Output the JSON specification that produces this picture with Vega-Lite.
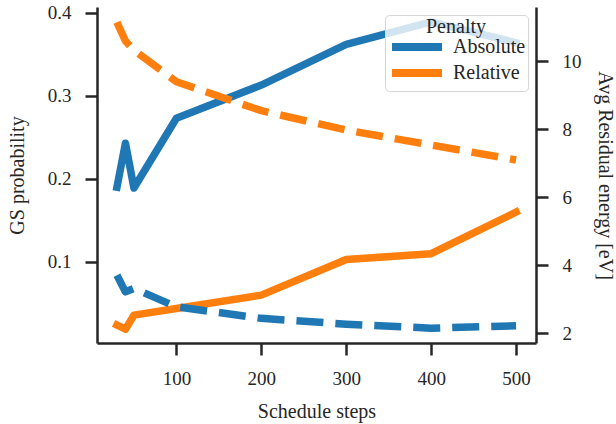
{
  "$schema": "https://vega.github.io/schema/vega-lite/v6.json",
  "width": 439,
  "height": 336,
  "autosize": {"type": "none"},
  "padding": {"left": 97, "top": 7, "right": 80, "bottom": 81},
  "background": "white",
  "config": {
    "view": {"stroke": null},
    "font": "Liberation Serif",
    "axis": {
      "grid": false,
      "domainColor": "#262626",
      "domainWidth": 2.5,
      "tickColor": "#262626",
      "tickWidth": 2.5,
      "tickSize": 12,
      "labelFont": "Liberation Serif",
      "labelFontSize": 19,
      "labelColor": "#262626",
      "labelPadding": 14,
      "titleFont": "Liberation Serif",
      "titleFontSize": 20,
      "titleFontWeight": "normal",
      "titleColor": "#262626"
    },
    "legend": {
      "labelFont": "Liberation Serif",
      "titleFont": "Liberation Serif"
    }
  },
  "data": {
    "values": [
      {"steps": 30, "penalty": "Absolute", "gs": 0.190, "energy": 3.71},
      {"steps": 40, "penalty": "Absolute", "gs": 0.243, "energy": 3.22},
      {"steps": 50, "penalty": "Absolute", "gs": 0.189, "energy": 3.32},
      {"steps": 100, "penalty": "Absolute", "gs": 0.273, "energy": 2.78},
      {"steps": 200, "penalty": "Absolute", "gs": 0.313, "energy": 2.44},
      {"steps": 300, "penalty": "Absolute", "gs": 0.362, "energy": 2.27},
      {"steps": 400, "penalty": "Absolute", "gs": 0.389, "energy": 2.15},
      {"steps": 500, "penalty": "Absolute", "gs": 0.364, "energy": 2.22},
      {"steps": 30, "penalty": "Relative", "gs": 0.024, "energy": 11.15},
      {"steps": 40, "penalty": "Relative", "gs": 0.019, "energy": 10.6},
      {"steps": 50, "penalty": "Relative", "gs": 0.036, "energy": 10.33},
      {"steps": 100, "penalty": "Relative", "gs": 0.044, "energy": 9.4},
      {"steps": 200, "penalty": "Relative", "gs": 0.060, "energy": 8.55},
      {"steps": 300, "penalty": "Relative", "gs": 0.103, "energy": 7.98},
      {"steps": 400, "penalty": "Relative", "gs": 0.110, "energy": 7.54},
      {"steps": 500, "penalty": "Relative", "gs": 0.160, "energy": 7.1}
    ]
  },
  "encoding": {
    "x": {
      "field": "steps",
      "type": "quantitative",
      "title": "Schedule steps",
      "scale": {"domain": [6.5, 523.5], "nice": false, "zero": false},
      "axis": {"values": [100, 200, 300, 400, 500], "titlePadding": 13}
    },
    "color": {
      "field": "penalty",
      "type": "nominal",
      "scale": {"domain": ["Absolute", "Relative"], "range": ["#1f77b4", "#ff7f0e"]},
      "legend": {
        "title": "Penalty",
        "orient": "top-right",
        "offset": 8,
        "titleFontSize": 20,
        "titleFontWeight": "normal",
        "titleColor": "#262626",
        "titleAnchor": "middle",
        "titlePadding": 0,
        "labelFontSize": 20,
        "labelColor": "#262626",
        "labelOffset": 46,
        "symbolType": "M-1,0H9",
        "symbolSize": 100,
        "symbolStrokeWidth": 8,
        "symbolDash": [1, 0],
        "rowPadding": -17,
        "padding": 2,
        "fillColor": "rgba(255,255,255,0.8)",
        "strokeColor": "#d6d6d6",
        "cornerRadius": 4
      }
    }
  },
  "layer": [
    {
      "mark": {"type": "line", "strokeWidth": 7.5, "strokeCap": "square", "strokeJoin": "round"},
      "encoding": {
        "y": {
          "field": "gs",
          "type": "quantitative",
          "title": "GS probability",
          "scale": {"domain": [0.0024, 0.407], "nice": false, "zero": false},
          "axis": {"values": [0.1, 0.2, 0.3, 0.4], "format": ".1f", "titlePadding": 20}
        }
      }
    },
    {
      "mark": {"type": "line", "strokeWidth": 7.5, "strokeDash": [27, 12], "strokeCap": "butt", "strokeJoin": "round"},
      "encoding": {
        "y": {
          "field": "energy",
          "type": "quantitative",
          "title": "Avg Residual energy [eV]",
          "scale": {"domain": [1.715, 11.6], "nice": false, "zero": false},
          "axis": {"orient": "right", "values": [2, 4, 6, 8, 10], "format": "d", "titlePadding": 13}
        }
      }
    }
  ],
  "resolve": {"scale": {"y": "independent"}}
}
